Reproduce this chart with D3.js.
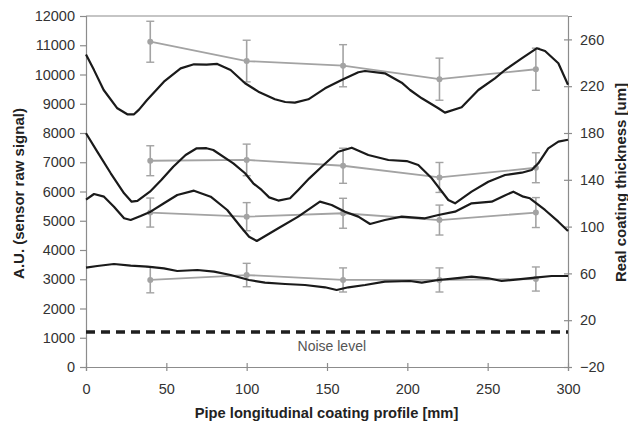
<!DOCTYPE html>
<html>
<head>
<meta charset="utf-8">
<script src="https://cdn.jsdelivr.net/npm/d3@7"></script>
<style>
  body { margin: 0; background: #fff; }
  svg { display: block; font-family: "Liberation Sans", Arial, sans-serif; }
</style>
</head>
<body>
<div id="chart"></div>
<script>
// sensor raw signal profiles [mm, A.U.]
const signal1 = [[0,10680],[5,10150],[11,9470],[19.5,8845],[25.7,8640],[29.9,8640],[33,8800],[38,9129],[48.5,9755],[58.9,10210],[67.2,10348],[75,10340],[81.7,10360],[90,10154],[99,9700],[107.3,9413],[117.6,9152],[124,9060],[130,9037],[138.4,9152],[148.8,9527],[159.1,9812],[169.5,10076],[173.7,10120],[186,10041],[196.5,9720],[201.7,9470],[209,9186],[219.3,8845],[223.4,8695],[233.8,8880],[244.2,9470],[254.5,9870],[260.8,10154],[271.2,10554],[280.5,10896],[285.7,10804],[294,10383],[300,9650]];
const signal2 = [[0,7990],[7,7361],[15.4,6623],[23.7,5939],[28.4,5652],[32,5680],[39.8,5994],[47,6400],[54.3,6848],[62,7250],[68.9,7477],[75,7480],[79.2,7419],[91.7,6964],[99,6623],[104.1,6281],[109.3,6052],[114,5800],[119.7,5690],[127,5768],[132.1,6052],[139,6450],[146.7,6848],[157,7361],[165.4,7498],[175.7,7248],[188.2,7077],[199.6,7040],[206.8,6906],[215.2,6451],[225.5,5710],[229.7,5597],[240,5994],[250.4,6335],[260.8,6565],[271.2,6643],[277.4,6735],[281.5,6964],[287.7,7477],[294,7703],[300,7770]];
const signal3 = [[0,5720],[5,5915],[11.2,5823],[17.4,5481],[23.7,5084],[27.8,5026],[34,5163],[40.2,5310],[48.5,5597],[56.8,5881],[67.2,6028],[77.6,5823],[87.9,5368],[96.3,4797],[101.5,4455],[106.3,4308],[119.7,4742],[132.1,5140],[145.6,5652],[152.9,5539],[161.2,5310],[169.5,5140],[176.8,4889],[186,5026],[196.5,5140],[211,5084],[219.3,5197],[229.7,5310],[240,5597],[252.5,5652],[260,5850],[266,5994],[272.2,5823],[276.3,5768],[285.7,5368],[294,4968],[300,4650]];
const signal4 = [[0,3395],[7,3453],[17.4,3522],[27.8,3464],[38.2,3430],[48.5,3374],[56.8,3282],[69.3,3316],[79.7,3258],[90,3145],[101.5,2975],[111.4,2882],[123.9,2838],[136.3,2804],[148.8,2725],[156,2633],[163.3,2725],[173.7,2804],[186,2916],[201.7,2940],[209,2882],[219.3,2975],[229.7,3033],[240,3087],[250.4,3033],[258.7,2940],[269,2998],[279.5,3053],[289.8,3111],[300,3111]];

// measured coating thickness [um] with error
const positions = [40, 100, 160, 220, 280];
const thickA = [258, 241.5, 237.5, 226, 234.5];
const errA = [17.5, 17.8, 18, 18, 18];
const thickB = [156.3, 157, 152, 142, 150.3];
const errB = [12.8, 13.5, 15, 12.8, 12.8];
const thickC = [112, 108.5, 111.4, 105.6, 112];
const errC = [12.4, 12, 12.8, 12.8, 12.8];
const thickD = [54.4, 58.6, 54.4, 54.4, 55.2];
const errD = [11, 10, 10.3, 10.3, 10.3];

const noiseLevel = 1200;
const xTicks = [0, 50, 100, 150, 200, 250, 300];
const yTicks = [0, 1000, 2000, 3000, 4000, 5000, 6000, 7000, 8000, 9000, 10000, 11000, 12000];
const y2Ticks = [-20, 20, 60, 100, 140, 180, 220, 260];

let w = 628;
let h = 423;
let marginLeft = 86;
let marginRight = 60;
let marginTop = 16;
let marginBottom = 56;

let x = d3.scaleLinear().domain([0, 300]).range([marginLeft, w - marginRight]);
let y = d3.scaleLinear().domain([0, 12000]).range([h - marginBottom, marginTop]);
let y2 = d3.scaleLinear().domain([-20, 280]).range([h - marginBottom, marginTop]);

let svg = d3
  .select("#chart")
  .append("svg")
  .attr("width", w)
  .attr("height", h);

const axisColor = "#8c8c8c";
const textColor = "#333";

// frame: top border
svg
  .append("path")
  .attr("d", `M${x(0)},${y(12000)}H${x(300)}`)
  .attr("stroke", axisColor)
  .attr("stroke-width", 1.2);

let yAxis = svg
  .append("g")
  .attr("transform", `translate(${marginLeft},0)`)
  .call(d3.axisLeft(y).tickValues(yTicks).tickFormat(d3.format("d")).tickSize(6).tickPadding(5));

let y2Axis = svg
  .append("g")
  .attr("transform", `translate(${w - marginRight},0)`)
  .call(d3.axisRight(y2).tickValues(y2Ticks).tickFormat(d3.format("d")).tickSize(4).tickPadding(8));
y2Axis.selectAll(".tick line").attr("x1", -4);

let xAxis = svg
  .append("g")
  .attr("transform", `translate(0,${h - marginBottom})`)
  .call(d3.axisBottom(x).tickValues(xTicks).tickSize(4).tickPadding(13));
xAxis.selectAll(".tick line").attr("y1", -4);

[yAxis, y2Axis, xAxis].forEach(function (g) {
  g.select(".domain").attr("stroke", axisColor).attr("stroke-width", 1.2);
  g.selectAll(".tick line").attr("stroke", axisColor).attr("stroke-width", 1.2);
  g.selectAll(".tick text")
    .attr("fill", textColor)
    .style("font-size", "14.5px")
    .style("font-family", '"Liberation Sans", Arial, sans-serif');
});

// noise level
svg
  .append("line")
  .attr("x1", x(0))
  .attr("x2", x(300))
  .attr("y1", y(noiseLevel))
  .attr("y2", y(noiseLevel))
  .attr("stroke", "#1e1e1e")
  .attr("stroke-width", 3.5)
  .attr("stroke-dasharray", "9,6");

svg
  .append("text")
  .attr("x", x(153))
  .attr("y", y(noiseLevel) + 19)
  .attr("text-anchor", "middle")
  .attr("fill", "#555")
  .style("font-size", "14px")
  .text("Noise level");

// thickness series (right axis)
const gray = "#a3a3a3";
let thickSeries = [
  [thickA, errA],
  [thickB, errB],
  [thickC, errC],
  [thickD, errD]
];

let grayLine = d3
  .line()
  .x(function (d) { return x(d.pos); })
  .y(function (d) { return y2(d.val); });

thickSeries.forEach(function (s) {
  let pts = positions.map(function (p, i) {
    return { pos: p, val: s[0][i], err: s[1][i] };
  });
  let g = svg.append("g");
  g.append("path")
    .datum(pts)
    .attr("d", grayLine)
    .attr("fill", "none")
    .attr("stroke", gray)
    .attr("stroke-width", 1.8);
  let bar = g.selectAll(".err").data(pts).enter().append("g");
  bar.append("line")
    .attr("x1", function (d) { return x(d.pos); })
    .attr("x2", function (d) { return x(d.pos); })
    .attr("y1", function (d) { return y2(d.val + d.err); })
    .attr("y2", function (d) { return y2(d.val - d.err); })
    .attr("stroke", gray)
    .attr("stroke-width", 1.6);
  [1, -1].forEach(function (sign) {
    bar.append("line")
      .attr("x1", function (d) { return x(d.pos) - 4; })
      .attr("x2", function (d) { return x(d.pos) + 4; })
      .attr("y1", function (d) { return y2(d.val + sign * d.err); })
      .attr("y2", function (d) { return y2(d.val + sign * d.err); })
      .attr("stroke", gray)
      .attr("stroke-width", 1.4);
  });
  bar.append("circle")
    .attr("cx", function (d) { return x(d.pos); })
    .attr("cy", function (d) { return y2(d.val); })
    .attr("r", 3)
    .attr("fill", gray);
});

// raw signal curves (left axis)
let signalLine = d3
  .line()
  .x(function (d) { return x(d[0]); })
  .y(function (d) { return y(d[1]); });

[signal1, signal2, signal3, signal4].forEach(function (s) {
  svg.append("path")
    .datum(s)
    .attr("d", signalLine)
    .attr("fill", "none")
    .attr("stroke", "#1a1a1a")
    .attr("stroke-width", 2.2)
    .attr("stroke-linejoin", "round");
});

// axis titles
svg
  .append("text")
  .attr("transform", `translate(23.5,${(y(0) + y(12000)) / 2 + 2}) rotate(-90)`)
  .attr("text-anchor", "middle")
  .attr("fill", "#222")
  .style("font-size", "15px")
  .style("font-weight", "bold")
  .text("A.U. (sensor raw signal)");

svg
  .append("text")
  .attr("transform", `translate(626,${(y(0) + y(12000)) / 2 - 9}) rotate(-90)`)
  .attr("text-anchor", "middle")
  .attr("fill", "#222")
  .style("font-size", "15px")
  .style("font-weight", "bold")
  .text("Real coating thickness [um]");

svg
  .append("text")
  .attr("x", 326.5)
  .attr("y", 418)
  .attr("text-anchor", "middle")
  .attr("fill", "#222")
  .style("font-size", "14.7px")
  .style("font-weight", "bold")
  .text("Pipe longitudinal coating profile [mm]");
</script>
</body>
</html>
